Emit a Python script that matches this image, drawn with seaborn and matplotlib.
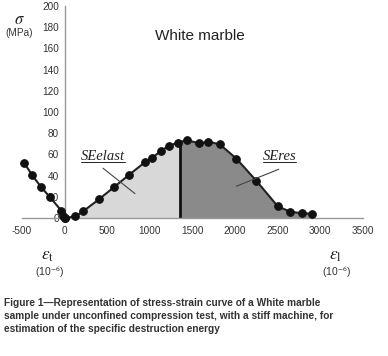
import numpy as np
import matplotlib
matplotlib.use("Agg")
import matplotlib.pyplot as plt
import seaborn as sns

# transverse strain branch (negative side) and axial strain branch
eps_t = [-475, -385, -275, -170, -40, -15, 0]
sig_t = [52, 41, 29, 19.5, 7, 2, 0]
eps_l = [0, 125, 220, 400, 585, 760, 940, 1030, 1125, 1220, 1325, 1435,
         1575, 1685, 1820, 2015, 2250, 2500, 2645, 2780, 2905]
sig_l = [0, 1.5, 6.5, 17.5, 29.5, 41, 52.5, 57, 63, 68, 71, 73.5,
         70.5, 72, 69.5, 56, 35, 11, 6, 4.5, 4]
split = 1354  # peak strain separating elastic / residual energy
xticks = [-500, 0, 500, 1000, 1500, 2000, 2500, 3000, 3500]
yticks = [0, 20, 40, 60, 80, 100, 120, 140, 160, 180, 200]

sns.set_style("white")
plt.rcParams['font.family'] = ['Liberation Sans', 'DejaVu Sans']
plt.rcParams['mathtext.fontset'] = 'stix'
plt.rcParams['axes.unicode_minus'] = False

fig = plt.figure(figsize=(3.88, 3.56), dpi=100)
ax = fig.add_axes([0.0567, 0.3876, 0.8789, 0.5955])

el = np.array(eps_l, dtype=float)
sl = np.array(sig_l, dtype=float)
s_split = np.interp(split, el, sl)
m = el < split
ax.fill_between(np.append(el[m], split), np.append(sl[m], s_split), 0,
                color='#d8d8d8', lw=0, zorder=1)
ax.fill_between(np.insert(el[~m], 0, split), np.insert(sl[~m], 0, s_split), 0,
                color='#8a8a8a', lw=0, zorder=1)
ax.plot([split, split], [0, s_split], color='#111111', lw=2, zorder=2)

for xs, ys in [(eps_t, sig_t), (eps_l, sig_l)]:
    sns.lineplot(x=xs, y=ys, sort=False, estimator=None, ax=ax, color='#222222',
                 lw=1.5, marker='o', markersize=5.5, markeredgecolor='#111111',
                 markerfacecolor='#111111', clip_on=False, zorder=3)

ax.set_xlim(-500, 3500)
ax.set_ylim(0, 200)
ax.set_xticks(xticks)
ax.set_yticks(yticks)
for s in ['top', 'right']:
    ax.spines[s].set_visible(False)
ax.spines['left'].set_position(('data', 0))
for s in ['left', 'bottom']:
    ax.spines[s].set_color('#999999')
    ax.spines[s].set_linewidth(1.0)
ax.tick_params(direction='inout', length=4, width=0.8, color='#999999',
               labelsize=7.2, labelcolor='#333333')
ax.tick_params(axis='x', pad=4)
ax.tick_params(axis='y', pad=2)
ax.set_facecolor('none')

ax.text(1587, 172, 'White marble', ha='center', va='center', fontsize=11,
        color='#222222')

t1 = ax.text(450, 58, 'SEelast', ha='center', va='center', fontsize=10.5,
             family='Liberation Serif', style='italic', color='#222222')
ax.plot([450, 825], [47, 23], color='#444444', lw=0.8, zorder=4)
t2 = ax.text(2520, 58, 'SEres', ha='center', va='center', fontsize=10.5,
             family='Liberation Serif', style='italic', color='#222222')
ax.plot([2512, 2015], [46, 30], color='#444444', lw=0.8, zorder=4)

# underline the italic labels
fig.canvas.draw()
r = fig.canvas.get_renderer()
inv = ax.transData.inverted()
for t in (t1, t2):
    bb = t.get_window_extent(r)
    (x0, y0), (x1, _) = inv.transform([(bb.x0, bb.y0 + 1), (bb.x1, bb.y0 + 1)])
    ax.plot([x0, x1], [y0, y0], color='#222222', lw=0.7, zorder=4)

fig.text(19 / 388, 1 - 20 / 356, r'$\sigma$', ha='center', va='center',
         fontsize=12, color='#222222')
fig.text(19 / 388, 1 - 33 / 356, '(MPa)', ha='center', va='center',
         fontsize=7.2, color='#333333')
fig.text(48 / 388, 1 - 256 / 356, r'$\varepsilon_\mathrm{t}$', ha='center',
         va='center', fontsize=12.5, color='#222222')
fig.text(50 / 388, 1 - 272 / 356, '(10$^{\\mathsf{-6}}$)', ha='center', va='center',
         fontsize=7.5, color='#333333')
fig.text(335 / 388, 1 - 256 / 356, r'$\varepsilon_\mathrm{l}$', ha='center',
         va='center', fontsize=12.5, color='#222222')
fig.text(337 / 388, 1 - 272 / 356, '(10$^{\\mathsf{-6}}$)', ha='center', va='center',
         fontsize=7.5, color='#333333')

fig.text(4 / 388, 1 - 298 / 356,
         'Figure 1\u2014Representation of stress-strain curve of a White marble\n'
         'sample under unconfined compression test, with a stiff machine, for\n'
         'estimation of the specific destruction energy',
         ha='left', va='top', fontsize=7.3, fontweight='bold', color='#333333',
         linespacing=1.35)

fig.savefig('out.png', dpi=100)
